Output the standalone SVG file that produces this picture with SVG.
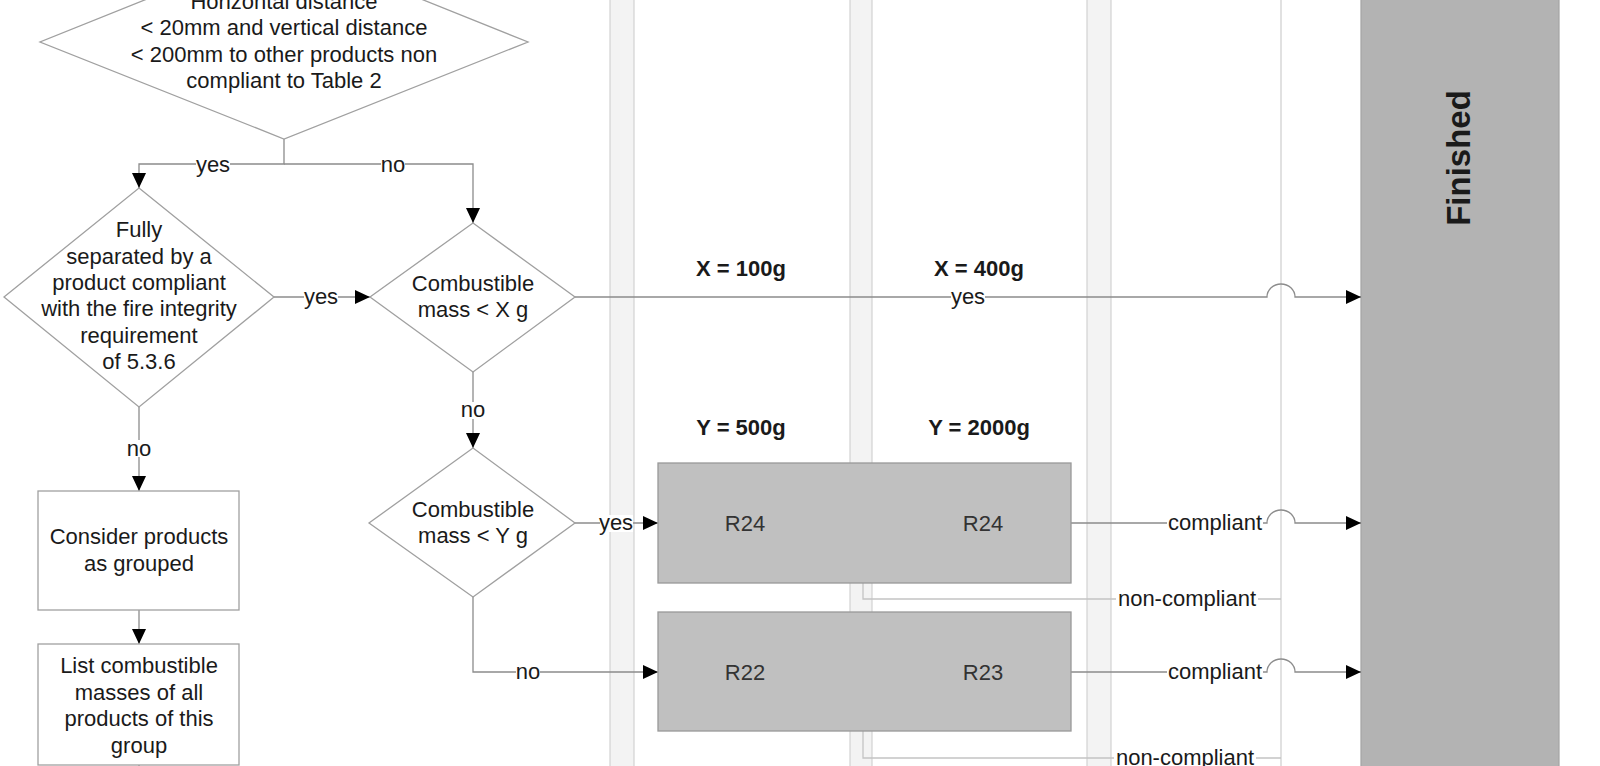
<svg xmlns="http://www.w3.org/2000/svg" width="1600" height="766" viewBox="0 0 1600 766">
<defs>
<style>
text{font-family:"Liberation Sans",Arial,sans-serif;font-size:22px;fill:#1a1a1a;text-anchor:middle}
.b{font-weight:bold}
.node{fill:#fff;stroke:#a0a0a0;stroke-width:1.3}
.grey{fill:#c0c0c0;stroke:#999;stroke-width:1.3}
.lane{fill:#f3f3f3;stroke:#d2d2d2;stroke-width:1.2}
.con{fill:none;stroke:#8c8c8c;stroke-width:1.3}
.con2{fill:none;stroke:#c4c4c4;stroke-width:1.3}
.lbg{fill:#fff}
</style>
<marker id="arr" markerUnits="userSpaceOnUse" markerWidth="16" markerHeight="14" refX="15" refY="7" orient="auto">
<path d="M0,0 L15,7 L0,14 z" fill="#000"/>
</marker>
</defs>
<rect width="1600" height="766" fill="#fff"/>
<g id="lanes">
<rect class="lane" x="610" y="-2" width="24" height="770"/>
<rect class="lane" x="850" y="-2" width="22" height="770"/>
<rect class="lane" x="1087" y="-2" width="24" height="770"/>
<line x1="1281" y1="-2" x2="1281" y2="768" stroke="#cdcdcd" stroke-width="1.2"/>
</g>
<g id="finished">
<rect x="1361" y="-2" width="198" height="770" fill="#b3b3b3" stroke="#a3a3a3" stroke-width="1.2"/>
<text class="b" style="font-size:33px" transform="translate(1470,158) rotate(-90)">Finished</text>
</g>
<g id="column-labels">
<text class="b" x="741" y="276">X = 100g</text>
<text class="b" x="979" y="276">X = 400g</text>
<text class="b" x="741" y="435">Y = 500g</text>
<text class="b" x="979" y="435">Y = 2000g</text>
</g>
<g id="connectors">
<path class="con" d="M284,139 V164 H139 V188" marker-end="url(#arr)"/>
<path class="con" d="M284,164 H473 V223" marker-end="url(#arr)"/>
<path class="con" d="M274,297 H370" marker-end="url(#arr)"/>
<path class="con" d="M139,407 V491" marker-end="url(#arr)"/>
<path class="con" d="M139,610 V644" marker-end="url(#arr)"/>
<path class="con" d="M139,765 V768"/>
<path class="con" d="M473,372 V448" marker-end="url(#arr)"/>
<path class="con" d="M575,523 H658" marker-end="url(#arr)"/>
<path class="con" d="M473,597 V672 H658" marker-end="url(#arr)"/>
<path class="con" d="M575,297 H1267 A14,13 0 0 1 1295,297 H1361" marker-end="url(#arr)"/>
<path class="con" d="M1071,523 H1267 A14,13 0 0 1 1295,523 H1361" marker-end="url(#arr)"/>
<path class="con" d="M1071,672 H1267 A14,13 0 0 1 1295,672 H1361" marker-end="url(#arr)"/>
<path class="con2" d="M863,583 V599 H1281"/>
<path class="con2" d="M863,731 V758 H1281"/>
<rect class="lbg" x="196" y="156" width="34" height="17"/><text x="213" y="172">yes</text>
<rect class="lbg" x="381" y="156" width="24" height="17"/><text x="393" y="172">no</text>
<rect class="lbg" x="304" y="289" width="34" height="17"/><text x="321" y="304">yes</text>
<rect class="lbg" x="127" y="440" width="24" height="17"/><text x="139" y="456">no</text>
<rect class="lbg" x="461" y="402" width="24" height="17"/><text x="473" y="417">no</text>
<rect class="lbg" x="600" y="515" width="33" height="17"/><text x="616" y="530">yes</text>
<rect class="lbg" x="516" y="664" width="24" height="17"/><text x="528" y="679">no</text>
<rect class="lbg" x="951" y="289" width="34" height="17"/><text x="968" y="304">yes</text>
<rect class="lbg" x="1167" y="513" width="96" height="20"/><text x="1215" y="530">compliant</text>
<rect class="lbg" x="1167" y="662" width="96" height="20"/><text x="1215" y="679">compliant</text>
<rect class="lbg" x="1116" y="589" width="142" height="20"/><text x="1187" y="606">non-compliant</text>
<rect class="lbg" x="1114" y="748" width="142" height="20"/><text x="1185" y="765">non-compliant</text>
</g>
<g id="d-distance">
<polygon class="node" points="284,-56 528,42 284,139 40,42"/>
<text x="284" y="8.5">Horizontal distance</text>
<text x="284" y="35">&lt; 20mm and vertical distance</text>
<text x="284" y="61.5">&lt; 200mm to other products non</text>
<text x="284" y="88">compliant to Table 2</text>
</g>
<g id="d-separated">
<polygon class="node" points="139,188 274,297 139,407 4,297"/>
<text x="139" y="237">Fully</text>
<text x="139" y="263.5">separated by a</text>
<text x="139" y="290">product compliant</text>
<text x="139" y="316">with the fire integrity</text>
<text x="139" y="342.5">requirement</text>
<text x="139" y="369">of 5.3.6</text>
</g>
<g id="d-massX">
<polygon class="node" points="473,223 575,297 473,372 370,297"/>
<text x="473" y="291">Combustible</text>
<text x="473" y="317">mass &lt; X g</text>
</g>
<g id="d-massY">
<polygon class="node" points="473,448 575,523 473,597 369,523"/>
<text x="473" y="517">Combustible</text>
<text x="473" y="543">mass &lt; Y g</text>
</g>
<g id="b-grouped">
<rect class="node" x="38" y="491" width="201" height="119"/>
<text x="139" y="544">Consider products</text>
<text x="139" y="570.5">as grouped</text>
</g>
<g id="b-list">
<rect class="node" x="38" y="644" width="201" height="121"/>
<text x="139" y="673">List combustible</text>
<text x="139" y="699.5">masses of all</text>
<text x="139" y="726">products of this</text>
<text x="139" y="752.5">group</text>
</g>
<g id="r-box1">
<rect class="grey" x="658" y="463" width="413" height="120"/>
<text x="745" y="531" style="fill:#333">R24</text>
<text x="983" y="531" style="fill:#333">R24</text>
</g>
<g id="r-box2">
<rect class="grey" x="658" y="612" width="413" height="119"/>
<text x="745" y="680" style="fill:#333">R22</text>
<text x="983" y="680" style="fill:#333">R23</text>
</g>
</svg>
